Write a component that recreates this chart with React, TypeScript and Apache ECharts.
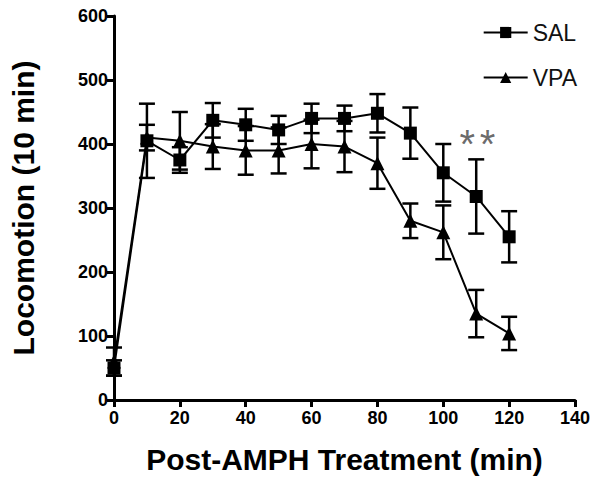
import React, { useEffect, useRef } from "react";
import * as echarts from "echarts";

const times = [0, 10, 20, 30, 40, 50, 60, 70, 80, 90, 100, 110, 120];
const salMean = [50, 405, 375, 437, 430, 422, 440, 440, 448, 417, 355, 318, 255];
const salErr = [12, 58, 20, 27, 25, 22, 23, 20, 30, 40, 45, 58, 40];
const vpaMean = [60, 410, 405, 396, 390, 390, 400, 396, 370, 280, 262, 135, 104];
const vpaErr = [22, 20, 45, 35, 38, 36, 38, 40, 40, 27, 42, 37, 26];
const sigX = [107.3, 113.4];
const sigY = 418;
const xTicks = { min: 0, max: 140, interval: 20 };
const yTicks = { min: 0, max: 600, interval: 100 };

const FONT = "'Liberation Sans', Arial, sans-serif";

function errorSeries(name: string, mean: number[], err: number[]) {
  const data = times.map((t, i) => [t, mean[i] - err[i], mean[i] + err[i]]);
  return {
    type: "custom",
    name: name + "-err",
    silent: true,
    z: 1,
    data,
    encode: { x: 0, y: [1, 2] },
    renderItem: (params: any, api: any) => {
      const x = api.value(0);
      const lo = api.coord([x, api.value(1)]);
      const hi = api.coord([x, api.value(2)]);
      const w = 8;
      const style = { stroke: "#000", lineWidth: 2.5 };
      return {
        type: "group",
        children: [
          { type: "line", shape: { x1: lo[0], y1: lo[1], x2: hi[0], y2: hi[1] }, style },
          { type: "line", shape: { x1: lo[0] - w, y1: lo[1], x2: lo[0] + w, y2: lo[1] }, style },
          { type: "line", shape: { x1: hi[0] - w, y1: hi[1], x2: hi[0] + w, y2: hi[1] }, style },
        ],
      };
    },
  };
}

export default function App() {
  const ref = useRef<HTMLDivElement>(null);
  useEffect(() => {
    if (!ref.current) return;
    const chart = echarts.init(ref.current, null, { renderer: "svg" });
    const axisLabelStyle = { color: "#000", fontFamily: FONT, fontWeight: "bold", fontSize: 18 };
    chart.setOption({
      animation: false,
      backgroundColor: "#fff",
      grid: { left: 112, right: 25, top: 16, bottom: 84 },
      legend: {
        orient: "vertical",
        right: 18,
        top: 16,
        itemWidth: 44,
        itemHeight: 14,
        itemGap: 22,
        data: ["SAL", "VPA"],
        textStyle: { color: "#111", fontFamily: FONT, fontSize: 23 },
      },
      xAxis: {
        type: "value",
        ...xTicks,
        name: "Post-AMPH Treatment (min)",
        nameLocation: "middle",
        nameGap: 44,
        nameTextStyle: { color: "#000", fontFamily: FONT, fontWeight: "bold", fontSize: 30 },
        axisLine: { onZero: false, lineStyle: { color: "#000", width: 3 } },
        axisTick: { length: 7, lineStyle: { color: "#000", width: 3 } },
        axisLabel: { ...axisLabelStyle, margin: 9 },
        splitLine: { show: false },
      },
      yAxis: {
        type: "value",
        ...yTicks,
        name: "Locomotion (10 min)",
        nameLocation: "middle",
        nameGap: 76,
        nameTextStyle: { color: "#000", fontFamily: FONT, fontWeight: "bold", fontSize: 30 },
        axisLine: { show: true, onZero: false, lineStyle: { color: "#000", width: 3 } },
        axisTick: { show: true, length: 7, lineStyle: { color: "#000", width: 3 } },
        axisLabel: { ...axisLabelStyle, margin: 6 },
        splitLine: { show: false },
      },
      series: [
        errorSeries("SAL", salMean, salErr),
        errorSeries("VPA", vpaMean, vpaErr),
        {
          type: "line",
          name: "SAL",
          data: times.map((t, i) => [t, salMean[i]]),
          symbol: "rect",
          symbolSize: 13,
          z: 3,
          itemStyle: { color: "#000" },
          lineStyle: { color: "#000", width: 2 },
        },
        {
          type: "line",
          name: "VPA",
          data: times.map((t, i) => [t, vpaMean[i]]),
          symbol: "triangle",
          symbolSize: 14,
          z: 3,
          itemStyle: { color: "#000" },
          lineStyle: { color: "#000", width: 2 },
        },
        {
          type: "scatter",
          name: "sig",
          silent: true,
          symbolSize: 0,
          data: sigX.map((x) => [x, sigY]),
          label: {
            show: true,
            formatter: "*",
            position: "inside",
            offset: [0, 12],
            color: "#444",
            fontFamily: FONT,
            fontSize: 40,
          },
        },
      ],
    });
    return () => chart.dispose();
  }, []);
  return <div ref={ref} style={{ width: 600, height: 484, position: "absolute", left: 0, top: 0 }} />;
}
